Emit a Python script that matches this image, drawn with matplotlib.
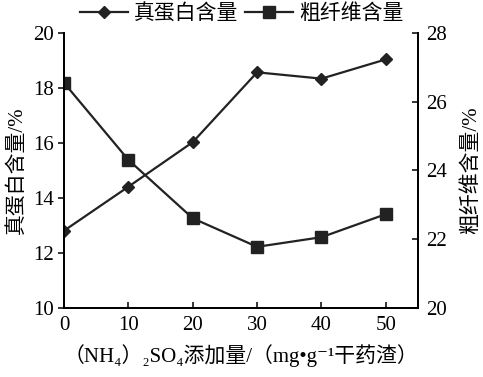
import matplotlib
matplotlib.use("Agg")
from matplotlib import pyplot as plt

# x: (NH4)2SO4 dosage, mg/g dry residue
dosage = [0, 10, 20, 30, 40, 50]
# true protein content, % (left axis)
true_protein = [12.81, 14.41, 16.03, 18.57, 18.34, 19.04]
# crude fibre content, % (right axis)
crude_fibre = [26.55, 24.31, 22.61, 21.78, 22.06, 22.73]

xticks = [0, 10, 20, 30, 40, 50]
left_ticks = [10, 12, 14, 16, 18, 20]
right_ticks = [20, 22, 24, 26, 28]

plt.rcParams['font.family'] = ['Liberation Serif', 'Noto Sans CJK SC', 'DejaVu Serif']
plt.rcParams['font.size'] = 15

ink = "#222222"

fig = plt.figure(figsize=(4.83, 3.77), dpi=100)
ax = fig.add_axes([0.1325, 0.183, 0.733, 0.7295])
ax2 = ax.twinx()

l1, = ax.plot(dosage, true_protein, color=ink, lw=1.6, marker="D", markersize=6,
              label="真蛋白含量")
l2, = ax2.plot(dosage, crude_fibre, color=ink, lw=1.6, marker="s", markersize=8.5,
               label="粗纤维含量")

ax.set_xlim(0, 55)
ax.set_ylim(10, 20)
ax2.set_ylim(20, 28)
ax.set_xticks(xticks)
ax.set_yticks(left_ticks)
ax2.set_yticks(right_ticks)

for a in (ax, ax2):
    a.spines["top"].set_visible(False)
    for s in a.spines.values():
        s.set_linewidth(1.3)
        s.set_color("black")

ax.tick_params(axis="x", direction="in", length=4, width=1.1, pad=6)
ax.tick_params(axis="y", direction="out", length=4, width=1.1, pad=3)
ax2.tick_params(axis="y", direction="in", length=4, width=1.1, pad=6)

ax.set_ylabel("真蛋白含量/%", labelpad=4)
ax2.set_ylabel("粗纤维含量/%", labelpad=10)
ax.set_xlabel("（NH₄）₂SO₄添加量/（mg•g⁻¹干药渣）", labelpad=6)

fig.legend(handles=[l1, l2], loc="center", bbox_to_anchor=(0.5, 0.962),
           ncol=2, frameon=False, handlelength=2.3, handletextpad=0.3,
           columnspacing=0.3, borderaxespad=0)

fig.savefig("out.png", dpi=100)
